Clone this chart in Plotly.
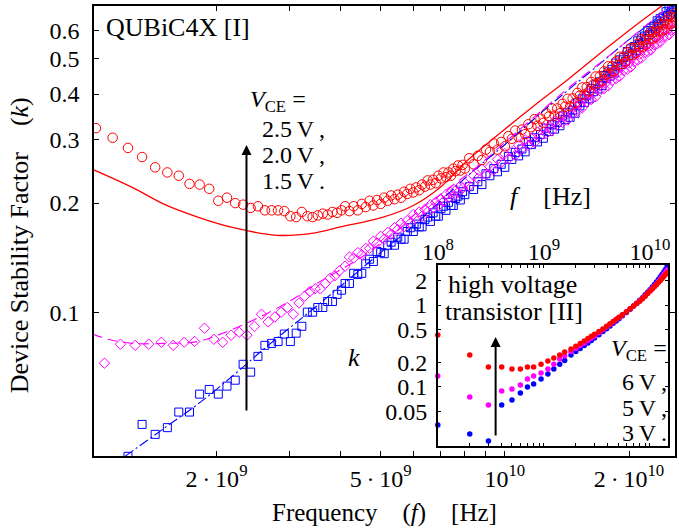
import plotly.graph_objects as go

# ---------------- data (frequencies in GHz) ----------------
F_RED_LOW = [1.02, 1.12, 1.22, 1.32, 1.42, 1.52, 1.62, 1.72, 1.82, 1.92, 2.02, 2.12, 2.22, 2.32, 2.42,
             2.52, 2.62, 2.72, 2.82, 2.92, 3.02, 3.12, 3.22, 3.32, 3.42, 3.52, 3.62, 3.72, 3.82, 3.92, 4.02]
K_RED_LOW = [0.322, 0.303, 0.284, 0.268, 0.251, 0.243, 0.238, 0.226, 0.225, 0.219, 0.203, 0.207, 0.200, 0.198, 0.194,
             0.196, 0.191, 0.191, 0.191, 0.190, 0.184, 0.183, 0.189, 0.184, 0.183, 0.185, 0.187, 0.186, 0.189, 0.188, 0.191]

F_BLUE_LOW = [1.22, 1.32, 1.42, 1.52, 1.62, 1.72, 1.82, 1.92, 2.02, 2.12, 2.22, 2.32, 2.42,
              2.52, 2.62, 2.72, 2.82, 2.92, 3.02, 3.12, 3.22, 3.32, 3.42, 3.52, 3.62, 3.72, 3.82, 3.92, 4.02]
K_BLUE_LOW = [0.0400, 0.049, 0.046, 0.048, 0.053, 0.053, 0.0594, 0.0612, 0.0594, 0.0625, 0.0649, 0.0718, 0.0683,
              0.0755, 0.081, 0.082, 0.083, 0.087, 0.083, 0.0875, 0.0914, 0.100, 0.100, 0.103, 0.103, 0.107, 0.107, 0.112, 0.115]

F_MAG_LOW = [1.07, 1.17, 1.27, 1.37, 1.47, 1.57, 1.67, 1.77, 1.87, 1.97, 2.07, 2.17, 2.27, 2.37, 2.47,
             2.57, 2.67, 2.77, 2.87, 2.97, 3.07, 3.17, 3.27, 3.37, 3.47, 3.57, 3.67, 3.77, 3.87, 3.97]
K_MAG_LOW = [0.0723, 0.0816, 0.081, 0.0816, 0.0826, 0.081, 0.0826, 0.083, 0.0903, 0.0842, 0.0826, 0.0864, 0.088, 0.0864, 0.0914,
             0.0987, 0.094, 0.097, 0.100, 0.103, 0.0987, 0.106, 0.1107, 0.114, 0.116, 0.116, 0.120, 0.124, 0.126, 0.130]

# dense sweep above 4 GHz
F_MID = [4.1, 4.2, 4.3, 4.4, 4.5, 4.6, 4.7, 4.8, 4.9, 5.0, 5.1, 5.2, 5.3, 5.4, 5.5, 5.6, 5.7, 5.8, 5.9, 6.0,
         6.1, 6.2, 6.3, 6.4, 6.5, 6.6, 6.7, 6.8, 6.9, 7.0, 7.1, 7.2, 7.3, 7.4, 7.5, 7.6, 7.7, 7.8, 7.9, 8.0]
F_TOP = [8.2, 8.4, 8.6, 8.8, 9.0, 9.2, 9.4, 9.6, 9.8, 10.0, 10.2, 10.4, 10.6, 10.8, 11.0, 11.2, 11.4, 11.6, 11.8, 12.0,
         12.2, 12.4, 12.6, 12.8, 13.0, 13.2, 13.4, 13.6, 13.8, 14.0, 14.2, 14.4, 14.6, 14.8, 15.0, 15.2, 15.4, 15.6, 15.8, 16.0,
         16.2, 16.4, 16.6, 16.8, 17.0, 17.2, 17.4, 17.6, 17.8, 18.0, 18.2, 18.4, 18.6, 18.8, 19.0, 19.2, 19.4, 19.6, 19.8, 20.0,
         20.2, 20.4, 20.6, 20.8, 21.0, 21.2, 21.4, 21.6, 21.8, 22.0, 22.2, 22.4, 22.6, 22.8, 23.0, 23.2, 23.4, 23.6, 23.8, 24.0,
         24.2, 24.4, 24.6, 24.8, 25.0, 25.2, 25.4, 25.6, 25.8, 26.0]

K_RED_MID = [0.196, 0.190, 0.196, 0.191, 0.199, 0.195, 0.203, 0.197, 0.204, 0.199, 0.207, 0.203, 0.210, 0.205, 0.211, 0.207, 0.215, 0.212, 0.219, 0.214,
             0.221, 0.217, 0.225, 0.222, 0.231, 0.225, 0.232, 0.227, 0.238, 0.234, 0.243, 0.236, 0.243, 0.238, 0.249, 0.245, 0.254, 0.246, 0.255, 0.249]
K_RED_TOP = [0.266, 0.256, 0.270, 0.263, 0.281, 0.277, 0.292, 0.281, 0.295, 0.287, 0.306, 0.301, 0.317, 0.304, 0.319, 0.310, 0.330, 0.324, 0.341, 0.327,
             0.342, 0.333, 0.354, 0.347, 0.365, 0.349, 0.365, 0.354, 0.376, 0.369, 0.388, 0.370, 0.389, 0.378, 0.403, 0.396, 0.417, 0.399, 0.418, 0.407,
             0.432, 0.425, 0.447, 0.428, 0.448, 0.435, 0.462, 0.453, 0.477, 0.456, 0.477, 0.463, 0.492, 0.482, 0.507, 0.484, 0.506, 0.491, 0.521, 0.511,
             0.536, 0.512, 0.536, 0.519, 0.550, 0.539, 0.566, 0.540, 0.564, 0.547, 0.580, 0.567, 0.595, 0.568, 0.593, 0.574, 0.609, 0.596, 0.625, 0.596,
             0.622, 0.602, 0.638, 0.624, 0.654, 0.624, 0.651, 0.630, 0.667, 0.652]

K_MAG_MID = [0.134, 0.142, 0.141, 0.146, 0.144, 0.150, 0.150, 0.157, 0.155, 0.162, 0.159, 0.166, 0.164, 0.171, 0.169, 0.176, 0.172, 0.179, 0.176, 0.186,
             0.182, 0.189, 0.184, 0.192, 0.189, 0.198, 0.194, 0.201, 0.197, 0.205, 0.202, 0.211, 0.207, 0.214, 0.209, 0.217, 0.214, 0.223, 0.220, 0.227]
K_MAG_TOP = [0.223, 0.238, 0.234, 0.248, 0.240, 0.252, 0.247, 0.264, 0.259, 0.274, 0.265, 0.277, 0.271, 0.289, 0.283, 0.299, 0.288, 0.301, 0.294, 0.314,
             0.307, 0.323, 0.311, 0.325, 0.317, 0.337, 0.330, 0.347, 0.334, 0.348, 0.339, 0.361, 0.353, 0.372, 0.359, 0.375, 0.366, 0.390, 0.381, 0.401,
             0.386, 0.403, 0.393, 0.418, 0.409, 0.430, 0.414, 0.431, 0.421, 0.447, 0.436, 0.459, 0.441, 0.459, 0.448, 0.476, 0.464, 0.487, 0.468, 0.487,
             0.475, 0.504, 0.491, 0.516, 0.496, 0.515, 0.502, 0.532, 0.519, 0.545, 0.523, 0.543, 0.529, 0.561, 0.546, 0.573, 0.550, 0.571, 0.556, 0.589,
             0.574, 0.602, 0.577, 0.599, 0.583, 0.617, 0.601, 0.630, 0.604, 0.627]

K_BLUE_MID = [0.120, 0.120, 0.128, 0.127, 0.128, 0.136, 0.140, 0.138, 0.147, 0.146, 0.145, 0.153, 0.156, 0.153, 0.161, 0.159, 0.159, 0.167, 0.171, 0.167,
              0.175, 0.172, 0.172, 0.180, 0.183, 0.178, 0.188, 0.184, 0.184, 0.193, 0.196, 0.191, 0.201, 0.197, 0.197, 0.206, 0.209, 0.204, 0.215, 0.211]
K_BLUE_TOP = [0.222, 0.218, 0.229, 0.225, 0.241, 0.238, 0.249, 0.244, 0.256, 0.251, 0.269, 0.264, 0.276, 0.270, 0.282, 0.277, 0.296, 0.290, 0.303, 0.295,
              0.309, 0.302, 0.322, 0.315, 0.329, 0.320, 0.334, 0.327, 0.348, 0.340, 0.355, 0.345, 0.361, 0.354, 0.378, 0.371, 0.388, 0.379, 0.396, 0.388,
              0.414, 0.406, 0.424, 0.413, 0.432, 0.422, 0.450, 0.441, 0.460, 0.448, 0.468, 0.457, 0.487, 0.476, 0.497, 0.483, 0.504, 0.492, 0.524, 0.512,
              0.533, 0.519, 0.541, 0.528, 0.561, 0.548, 0.571, 0.554, 0.578, 0.564, 0.599, 0.584, 0.608, 0.591, 0.615, 0.600, 0.637, 0.621, 0.646, 0.627,
              0.653, 0.636, 0.675, 0.658, 0.685, 0.664, 0.691, 0.673, 0.714, 0.696]

# model curves (GHz, k)
F_RED_MODEL = [1.0, 1.25, 1.5, 1.8, 2.2, 2.8, 3.4, 4.0, 5.0, 6.0, 7.0, 8.2, 10.0, 12.0, 14.3, 18.0, 21.0, 24.0, 26.0]
K_RED_MODEL = [0.248, 0.221, 0.198, 0.183, 0.171, 0.163, 0.165, 0.172, 0.182, 0.197, 0.222, 0.265, 0.320, 0.378, 0.441, 0.545, 0.625, 0.700, 0.750]
F_MAG_MODEL = [1.0, 1.1, 1.25, 1.5, 1.8, 2.1, 2.5, 3.0, 3.5, 4.0, 4.5, 5.0, 5.5, 6.1, 7.2, 8.5, 10.0, 12.0, 14.6, 18.2, 20.7, 24.0, 26.0]
K_MAG_MODEL = [0.087, 0.084, 0.082, 0.082, 0.083, 0.088, 0.096, 0.107, 0.120, 0.131, 0.142, 0.155, 0.168, 0.188, 0.217, 0.250, 0.294, 0.352, 0.425, 0.518, 0.585, 0.670, 0.720]
F_BLUE_MODEL = [1.2, 1.5, 1.8, 2.2, 2.6, 3.0, 3.5, 4.0, 5.0, 6.0, 6.9, 8.2, 10.0, 12.6, 17.2, 20.0, 23.0, 26.0]
K_BLUE_MODEL = [0.040, 0.048, 0.0557, 0.067, 0.079, 0.0903, 0.104, 0.118, 0.146, 0.173, 0.200, 0.240, 0.290, 0.365, 0.490, 0.565, 0.640, 0.720]

# inset: high voltage transistor
F_INSET = [0.1, 0.2, 0.3, 0.4, 0.5, 0.6, 0.7, 0.8, 0.94, 1.09, 1.24, 1.41, 1.57, 1.8, 2.0, 2.2, 2.4, 2.6, 2.8, 3.0,
           3.3, 3.6, 3.9, 4.2, 4.5, 4.8, 5.1, 5.5, 6.0, 6.5, 7.0, 7.5, 8.0, 8.5, 9.0, 9.5, 10.0, 10.5, 11.0, 11.5,
           12.0, 12.5, 13.0, 13.5, 14.0, 14.5]
K_INSET_6V = [0.43, 0.246, 0.175, 0.175, 0.166, 0.166, 0.175, 0.175, 0.19, 0.207, 0.226, 0.246, 0.267, 0.29, 0.315, 0.34, 0.365, 0.39, 0.415, 0.44,
              0.475, 0.51, 0.55, 0.59, 0.63, 0.67, 0.71, 0.76, 0.83, 0.90, 0.97, 1.04, 1.11, 1.19, 1.28, 1.38, 1.48, 1.57, 1.67, 1.77,
              1.88, 1.99, 2.10, 2.22, 2.35, 2.48]
K_INSET_5V = [0.136, 0.0755, 0.0603, 0.0893, 0.0945, 0.106, 0.125, 0.136, 0.148, 0.166, 0.19, 0.22, 0.24, 0.27, 0.295, 0.32, 0.345, 0.37, 0.395, 0.42,
              0.46, 0.50, 0.54, 0.58, 0.62, 0.66, 0.70, 0.76, 0.83, 0.90, 0.97, 1.05, 1.13, 1.21, 1.30, 1.39, 1.49, 1.59, 1.70, 1.81,
              1.93, 2.06, 2.20, 2.35, 2.50, 2.68]
K_INSET_3V = [0.0344, 0.0267, 0.0219, 0.0603, 0.0694, 0.0845, 0.100, 0.109, 0.125, 0.144, 0.166, 0.19, 0.21, 0.245, 0.27, 0.295, 0.32, 0.345, 0.37, 0.395,
              0.435, 0.475, 0.515, 0.555, 0.60, 0.64, 0.68, 0.74, 0.81, 0.89, 0.97, 1.05, 1.14, 1.23, 1.33, 1.43, 1.54, 1.66, 1.78, 1.91,
              2.05, 2.20, 2.36, 2.53, 2.72, 2.95]

MAIN_XTICKS = [2e9, 3e9, 4e9, 5e9, 6e9, 7e9, 8e9, 9e9, 1e10, 2e10]
MAIN_XLABELS = ["2\u2009\u00b7\u200910<sup>9</sup>", "", "", "5\u2009\u00b7\u200910<sup>9</sup>", "", "", "", "",
                "10<sup>10</sup>", "2\u2009\u00b7\u200910<sup>10</sup>"]
MAIN_YTICKS = [0.1, 0.2, 0.3, 0.4, 0.5, 0.6]
MAIN_YLABELS = ["0.1", "0.2", "0.3", "0.4", "0.5", "0.6"]
INSET_XTICKS = [1e8, 2e8, 3e8, 4e8, 5e8, 6e8, 7e8, 8e8, 9e8, 1e9, 2e9, 3e9, 4e9, 5e9, 6e9, 7e9, 8e9, 9e9, 1e10]
INSET_XLABELS = ["10<sup>8</sup>", "", "", "", "", "", "", "", "", "10<sup>9</sup>", "", "", "", "", "", "", "", "",
                 "10<sup>10</sup>"]
INSET_YTICKS = [0.05, 0.1, 0.2, 0.5, 1, 2]
INSET_YLABELS = ["0.05", "0.1", "0.2", "0.5", "1", "2"]

for a, b in [(F_RED_LOW, K_RED_LOW), (F_BLUE_LOW, K_BLUE_LOW), (F_MAG_LOW, K_MAG_LOW),
             (F_MID, K_RED_MID), (F_MID, K_MAG_MID), (F_MID, K_BLUE_MID),
             (F_TOP, K_RED_TOP), (F_TOP, K_MAG_TOP), (F_TOP, K_BLUE_TOP),
             (F_RED_MODEL, K_RED_MODEL), (F_MAG_MODEL, K_MAG_MODEL), (F_BLUE_MODEL, K_BLUE_MODEL),
             (F_INSET, K_INSET_6V), (F_INSET, K_INSET_5V), (F_INSET, K_INSET_3V)]:
    assert len(a) == len(b), (len(a), len(b))

RED, MAG, BLUE = "#ff0000", "#ff00ff", "#0000ff"
FONT = "Liberation Serif, DejaVu Serif, serif"
FS = 24      # tick labels
FT = 26      # titles

def hz(lst):
    return [v * 1e9 for v in lst]

fig = go.Figure()

# main measured data
fig.add_trace(go.Scatter(x=hz(F_BLUE_LOW + F_MID + F_TOP), y=K_BLUE_LOW + K_BLUE_MID + K_BLUE_TOP, mode="markers",
                         marker=dict(symbol="square-open", size=8, color=BLUE, line=dict(width=1, color=BLUE))))
fig.add_trace(go.Scatter(x=hz(F_MAG_LOW + F_MID + F_TOP), y=K_MAG_LOW + K_MAG_MID + K_MAG_TOP, mode="markers",
                         marker=dict(symbol="diamond-open", size=8, color=MAG, line=dict(width=1, color=MAG))))
fig.add_trace(go.Scatter(x=hz(F_RED_LOW + F_MID + F_TOP), y=K_RED_LOW + K_RED_MID + K_RED_TOP, mode="markers",
                         marker=dict(symbol="circle-open", size=9.5, color=RED, line=dict(width=1, color=RED))))
# model lines
fig.add_trace(go.Scatter(x=hz(F_BLUE_MODEL), y=K_BLUE_MODEL, mode="lines", line_shape="spline",
                         line=dict(color=BLUE, width=1.1, dash="10px,3px,2px,3px")))
fig.add_trace(go.Scatter(x=hz(F_MAG_MODEL), y=K_MAG_MODEL, mode="lines", line_shape="spline",
                         line=dict(color=MAG, width=1.1, dash="10px,6px")))
fig.add_trace(go.Scatter(x=hz(F_RED_MODEL), y=K_RED_MODEL, mode="lines", line_shape="spline",
                         line=dict(color=RED, width=1.3)))

# inset
for k, c in [(K_INSET_3V, BLUE), (K_INSET_5V, MAG), (K_INSET_6V, RED)]:
    fig.add_trace(go.Scatter(x=hz(F_INSET), y=k, mode="markers", xaxis="x2", yaxis="y2", cliponaxis=False,
                             marker=dict(symbol="circle", size=5.5, color=c, line=dict(width=0))))

L, R, T, B = 94, 2, 6, 73
W, H = 679, 529
PW, PH = W - L - R, H - T - B

def px(xp):
    return (xp - L) / PW

def py(yp):
    return (H - B - yp) / PH

axis_common = dict(type="log", showgrid=False, zeroline=False, showline=True, linecolor="black", linewidth=1.5,
                   ticks="inside", tickcolor="black", tickwidth=1, mirror="ticks",
                   tickfont=dict(family=FONT, size=FS, color="black"))

fig.update_layout(
    width=W, height=H, margin=dict(l=L, r=R, t=T, b=B),
    paper_bgcolor="white", plot_bgcolor="white", showlegend=False,
    font=dict(family=FONT, size=FS, color="black"),
    xaxis=dict(axis_common, range=[9.004, 10.4125], tickmode="array", tickvals=MAIN_XTICKS, ticktext=MAIN_XLABELS,
               ticklen=5, ticklabelstandoff=0, domain=[0, 1], anchor="y"),
    yaxis=dict(axis_common, range=[-1.397, -0.155], tickmode="array", tickvals=MAIN_YTICKS, ticktext=MAIN_YLABELS,
               ticklen=5, ticklabelstandoff=8, domain=[0, 1], anchor="x"),
    xaxis2=dict(axis_common, range=[8.0, 10.17], tickmode="array", tickvals=INSET_XTICKS, ticktext=INSET_XLABELS,
                ticklen=3, side="top", ticklabelstandoff=-6, domain=[px(439), px(670)], anchor="y2"),
    yaxis2=dict(axis_common, range=[-1.72, 0.488], tickmode="array", tickvals=INSET_YTICKS, ticktext=INSET_YLABELS,
                ticklen=3, ticklabelstandoff=4, domain=[py(446), py(265)], anchor="x2"),
)

def text(t, x, y, xa="left", ya="middle", angle=0, size=FT):
    fig.add_annotation(text=t, x=px(x), y=py(y), xref="paper", yref="paper", showarrow=False, borderpad=0,
                       xanchor=xa, yanchor=ya, textangle=angle, font=dict(family=FONT, size=size, color="black"))

text("QUBiC4X [I]", 105, 28)
text("<i>V</i><sub>CE</sub> =", 250, 101, size=24)
text("2.5\u2009V\u2009,", 262, 129, size=24)
text("2.0\u2009V\u2009,", 262, 155, size=24)
text("1.5\u2009V\u2009.", 262, 181, size=24)
text("<i>f</i>\u00a0\u00a0\u00a0\u00a0[Hz]", 510, 196)
text("high voltage", 448, 284)
text("transistor [II]", 445, 311)
text("<i>V</i><sub>CE</sub> =", 670, 350, xa="right", size=24)
text("6\u2009V\u2009,", 670, 382, xa="right", size=24)
text("5\u2009V\u2009,", 670, 408, xa="right", size=24)
text("3\u2009V\u2009.", 670, 433, xa="right", size=24)
text("<i>k</i>", 355, 357, xa="center")
text("Device Stability Factor\u00a0\u00a0\u00a0\u00a0(<i>k</i>)", 19, 245, xa="center", angle=-90)
text("Frequency\u00a0\u00a0\u00a0\u00a0(<i>f</i>)\u00a0\u00a0\u00a0\u00a0[Hz]", 386, 513, xa="center", size=25)

# arrows
fig.add_annotation(x=px(247), y=py(145), xref="paper", yref="paper", ax=0, ay=267, axref="pixel", ayref="pixel",
                   showarrow=True, arrowhead=2, arrowsize=1, arrowwidth=2, arrowcolor="black", text="")
fig.add_annotation(x=px(497), y=py(337), xref="paper", yref="paper", ax=0, ay=100, axref="pixel", ayref="pixel",
                   showarrow=True, arrowhead=2, arrowsize=1, arrowwidth=2, arrowcolor="black", text="")

fig.write_html("out.html")
